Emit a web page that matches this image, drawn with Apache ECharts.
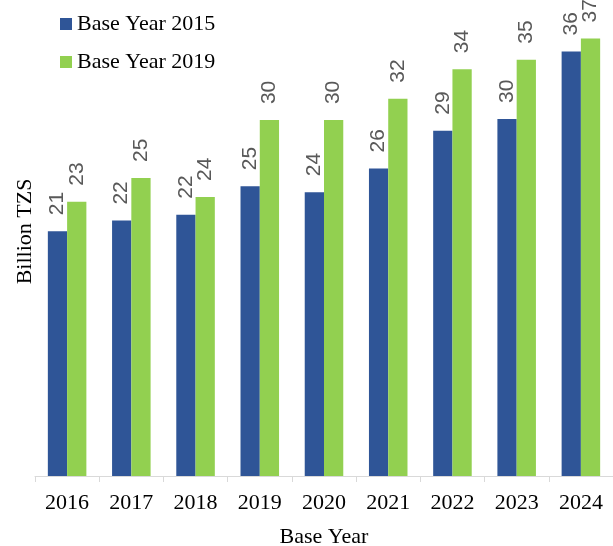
<!DOCTYPE html>
<html>
<head>
<meta charset="utf-8">
<script src="https://cdn.jsdelivr.net/npm/echarts@6/dist/echarts.min.js"></script>
<style>
html,body{margin:0;padding:0;background:#fff;}
#chart{width:613px;height:546px;}
</style>
</head>
<body>
<div id="chart"></div>
<script>
var categories = ['2016','2017','2018','2019','2020','2021','2022','2023','2024'];
var seriesNames = ['Base Year 2015','Base Year 2019'];
var base2015 = [20.7, 21.6, 22.1, 24.5, 24.0, 26.0, 29.2, 30.2, 35.9];
var base2019 = [23.2, 25.2, 23.6, 30.1, 30.1, 31.9, 34.4, 35.2, 37.0];
var colors = ['#2F5597', '#92D050'];

var serif = '"Liberation Serif", "DejaVu Serif", serif';
var labelFont = '"Liberation Sans Narrow", "Liberation Sans", Arial, sans-serif';

function barLabel() {
  return {
    show: true,
    position: 'top',
    rotate: 90,
    align: 'left',
    verticalAlign: 'middle',
    distance: 16,
    color: '#595959',
    fontFamily: labelFont,
    fontSize: 21,
    formatter: function (p) { return Math.round(p.value); }
  };
}

var chart = echarts.init(document.getElementById('chart'), null, {renderer: 'canvas'});
chart.setOption({
  animation: false,
  backgroundColor: '#fff',
  color: colors,
  legend: {
    orient: 'vertical',
    left: 55,
    top: 8,
    itemWidth: 12,
    itemHeight: 12,
    itemGap: 16,
    icon: 'rect',
    textStyle: {fontFamily: serif, fontSize: 22, color: '#000'},
    data: seriesNames
  },
  grid: {left: 35, right: 0, top: 3, bottom: 70, containLabel: false, outerBoundsMode: 'none'},
  xAxis: {
    type: 'category',
    data: categories,
    name: 'Base Year',
    nameLocation: 'middle',
    nameGap: 50,
    nameTextStyle: {fontFamily: serif, fontSize: 22, color: '#000'},
    axisLine: {lineStyle: {color: '#d9d9d9', width: 1}},
    axisTick: {show: true, length: 6, lineStyle: {color: '#d9d9d9'}},
    axisLabel: {fontFamily: serif, fontSize: 22, color: '#000', margin: 16}
  },
  yAxis: {
    type: 'value',
    min: 0,
    max: 40,
    name: 'Billion TZS',
    nameLocation: 'middle',
    nameGap: -1,
    nameRotate: 90,
    nameTextStyle: {fontFamily: serif, fontSize: 22, color: '#000', padding: [0, 0, 0, 16]},
    axisLine: {show: false},
    axisTick: {show: false},
    axisLabel: {show: false},
    splitLine: {show: false}
  },
  series: [
    {name: seriesNames[0], type: 'bar', data: base2015, barGap: '0%', barCategoryGap: '40%', label: barLabel()},
    {name: seriesNames[1], type: 'bar', data: base2019, barGap: '0%', barCategoryGap: '40%', label: barLabel()}
  ]
});
</script>
</body>
</html>
